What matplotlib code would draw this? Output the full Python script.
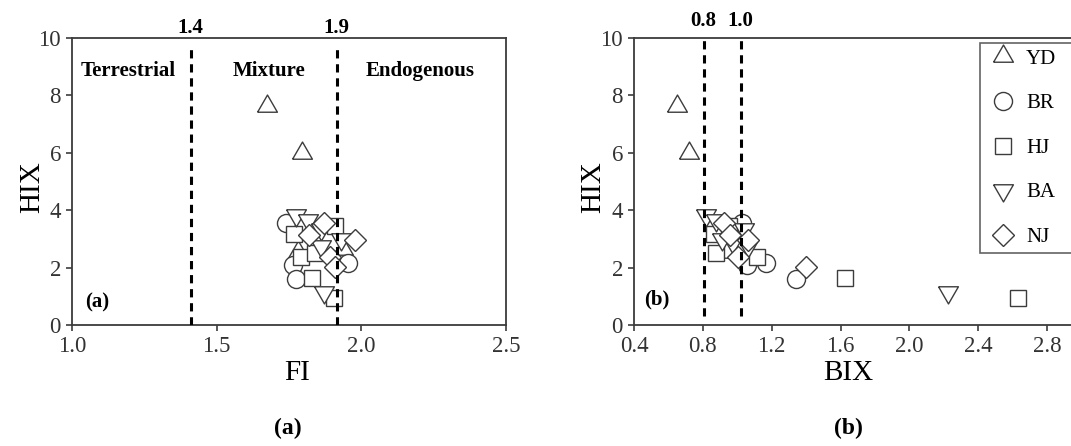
import matplotlib
matplotlib.use("Agg")
import matplotlib.pyplot as plt
from matplotlib.lines import Line2D

plt.rcParams["font.family"] = ["Liberation Serif", "DejaVu Serif"]

# ---- data -------------------------------------------------------------
sites = ["YD", "BR", "HJ", "BA", "NJ"]

hix_yd = [7.64, 5.99, 2.64, 2.55]
fi_yd = [1.673, 1.795, 1.935, 1.780]
bix_yd = [0.652, 0.717, 1.030, 0.930]

hix_br = [3.55, 2.09, 1.61, 2.15]
fi_br = [1.740, 1.763, 1.774, 1.955]
bix_br = [1.027, 1.057, 1.342, 1.164]

hix_hj = [3.18, 2.38, 1.65, 0.93, 3.45, 2.50]
fi_hj = [1.768, 1.791, 1.830, 1.905, 1.910, 1.840]
bix_hj = [0.865, 1.117, 1.624, 2.631, 0.950, 0.877]

hix_ba = [3.85, 3.65, 3.35, 2.75, 1.15, 3.00]
fi_ba = [1.774, 1.815, 1.860, 1.860, 1.870, 1.930]
bix_ba = [0.820, 0.877, 1.037, 1.061, 2.224, 0.913]

hix_nj = [3.55, 3.15, 2.97, 2.38, 2.02]
fi_nj = [1.870, 1.820, 1.978, 1.893, 1.910]
bix_nj = [0.920, 0.960, 1.060, 1.007, 1.398]

fi_cut = [1.41, 1.915]
fi_cut_labels = ["1.4", "1.9"]
bix_cut = [0.805, 1.02]
bix_cut_labels = ["0.8", "1.0"]

zones = ["Terrestrial", "Mixture", "Endogenous"]
zone_x = [1.194, 1.681, 2.203]

fi_ticks = [1.0, 1.5, 2.0, 2.5]
bix_ticks = [0.4, 0.8, 1.2, 1.6, 2.0, 2.4, 2.8]
hix_ticks = [0, 2, 4, 6, 8, 10]

# ---- style ------------------------------------------------------------
EDGE = "#3c3c3c"
TRI_UP = [(-1, -0.577), (1, -0.577), (0, 1.155), (-1, -0.577)]
TRI_DOWN = [(-1, 0.577), (1, 0.577), (0, -1.155), (-1, 0.577)]
markers = {
    "YD": dict(marker=TRI_UP, ms=16.5),
    "BR": dict(marker="o", ms=13),
    "HJ": dict(marker="s", ms=11.3),
    "BA": dict(marker=TRI_DOWN, ms=16.5),
    "NJ": dict(marker="D", ms=11.5),
}

series_a = {"YD": (fi_yd, hix_yd), "BR": (fi_br, hix_br), "HJ": (fi_hj, hix_hj),
            "BA": (fi_ba, hix_ba), "NJ": (fi_nj, hix_nj)}
series_b = {"YD": (bix_yd, hix_yd), "BR": (bix_br, hix_br), "HJ": (bix_hj, hix_hj),
            "BA": (bix_ba, hix_ba), "NJ": (bix_nj, hix_nj)}

W, H = 1071, 446
fig = plt.figure(figsize=(W / 100, H / 100), dpi=100)
ax_a = fig.add_axes([72 / W, 121 / H, 434 / W, 287 / H])
ax_b = fig.add_axes([634 / W, 121 / H, 482 / W, 287 / H])


def style_axes(ax, xticks, xfmt):
    ax.set_ylim(0, 10)
    ax.set_yticks(hix_ticks)
    ax.set_xticks(xticks)
    ax.set_xticklabels([xfmt.format(t) for t in xticks])
    for sp in ax.spines.values():
        sp.set_color(EDGE)
        sp.set_linewidth(1.3)
    ax.tick_params(axis="both", direction="out", length=4, width=1.2,
                   color=EDGE, labelsize=16.5, labelcolor="#333333")
    ax.tick_params(axis="x", pad=4)
    ax.tick_params(axis="y", pad=4)


def draw_points(ax, series):
    for i, name in enumerate(sites):
        xs, ys = series[name]
        ax.plot(xs, ys, linestyle="none", mfc="white", mec=EDGE, mew=1.0,
                zorder=3 + i, **markers[name])


# panel (a)
ax_a.set_xlim(1.0, 2.5)
style_axes(ax_a, fi_ticks, "{:.1f}")
draw_points(ax_a, series_a)
for x, lab in zip(fi_cut, fi_cut_labels):
    ax_a.plot([x, x], [0, 9.75], color="black", lw=2.2,
              linestyle=(0, (2.7, 1.9)), zorder=10)
    ax_a.text(x, 10.35, lab, ha="center", va="center", fontsize=15,
              fontweight="bold", clip_on=False)
for x, lab in zip(zone_x, zones):
    ax_a.text(x, 8.85, lab, ha="center", va="center", fontsize=15,
              fontweight="bold")
ax_a.text(1.086, 0.8, "(a)", ha="center", va="center", fontsize=15,
          fontweight="bold")

# panel (b)
ax_b.set_xlim(0.4, 3.2)
style_axes(ax_b, bix_ticks, "{:.1f}")
draw_points(ax_b, series_b)
for x, lab in zip(bix_cut, bix_cut_labels):
    ax_b.plot([x, x], [0.3, 9.95], color="black", lw=2.2,
              linestyle=(0, (2.7, 1.9)), zorder=10)
    ax_b.text(x, 10.6, lab, ha="center", va="center", fontsize=15,
              fontweight="bold", clip_on=False)
ax_b.text(0.534, 0.9, "(b)", ha="center", va="center", fontsize=15,
          fontweight="bold")

handles = [Line2D([], [], linestyle="none", mfc="white", mec=EDGE, mew=1.0,
                  **markers[name]) for name in sites]
leg = ax_b.legend(handles, sites, loc="upper left",
                  bbox_to_anchor=(0.718, 0, 0.3, 0.983), mode="expand",
                  borderaxespad=0, fontsize=15, frameon=True, fancybox=False,
                  labelspacing=1.2, handlelength=1.6, handletextpad=0.3,
                  borderpad=0.3)
leg.get_frame().set_edgecolor(EDGE)
leg.get_frame().set_linewidth(1.2)
leg.set_zorder(20)

# axis labels and captions
fig.text(32 / W, 1 - 187 / H, "HIX", rotation=90, ha="center", va="center",
         fontsize=21)
fig.text(593 / W, 1 - 187 / H, "HIX", rotation=90, ha="center", va="center",
         fontsize=21)
fig.text(297 / W, 1 - 373 / H, "FI", ha="center", va="center", fontsize=21)
fig.text(848 / W, 1 - 373 / H, "BIX", ha="center", va="center", fontsize=21)
fig.text(288 / W, 1 - 428 / H, "(a)", ha="center", va="center", fontsize=17,
         fontweight="bold")
fig.text(848 / W, 1 - 428 / H, "(b)", ha="center", va="center", fontsize=17,
         fontweight="bold")

fig.savefig("out.png", dpi=100)
